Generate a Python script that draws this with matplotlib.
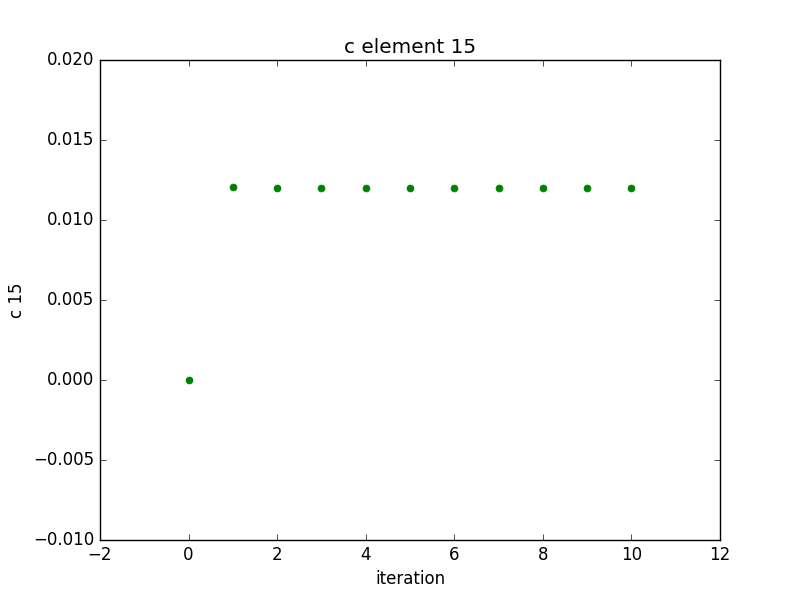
import matplotlib
matplotlib.use("Agg")
import matplotlib.pyplot as plt

plt.style.use("classic")

iteration = [0, 1, 2, 3, 4, 5, 6, 7, 8, 9, 10]
c15 = [0.0, 0.01205, 0.01198, 0.01198, 0.01198, 0.01198,
       0.01198, 0.01198, 0.01198, 0.01198, 0.01198]

fig, ax = plt.subplots(figsize=(8, 6), dpi=100)
ax.plot(iteration, c15, "o", color="green", markeredgecolor="green",
        markersize=5, linestyle="none")
ax.set_xlim(-2, 12)
ax.set_ylim(-0.010, 0.020)
ax.set_title("c element 15")
ax.set_xlabel("iteration")
ax.set_ylabel("c 15")

fig.savefig("out.png", facecolor="white")
